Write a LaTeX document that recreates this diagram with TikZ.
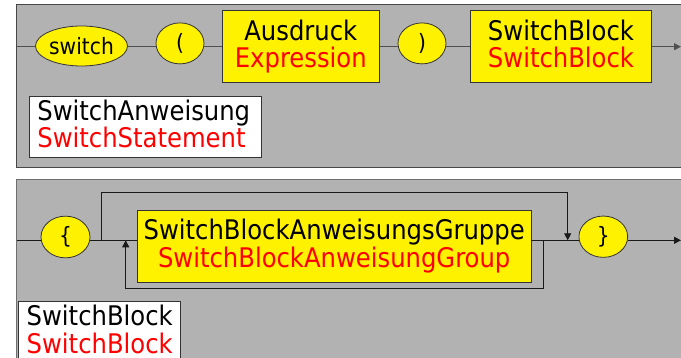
\documentclass[tikz,border=0pt]{standalone}
\usepackage{fontspec}
\setmainfont{DejaVu Sans Condensed}
\usetikzlibrary{shapes.geometric,arrows.meta}

\definecolor{panelgray}{HTML}{B2B2B2}
\definecolor{frameA}{HTML}{474747}
\definecolor{frameB}{HTML}{6E6E6E}
\definecolor{outline}{HTML}{333333}
\definecolor{wireA}{HTML}{505050}
\definecolor{wireB}{HTML}{1A1A1A}

% uniform line height for the two-line labels
\newcommand{\lnstrut}{\rule[-6pt]{0pt}{26pt}}
\newcommand{\bigtext}{\fontsize{27}{26}\selectfont}

\tikzset{
  panelfill/.style={fill=panelgray},
  term/.style={ellipse, draw=outline, fill=yellow, line width=0.8pt, inner sep=0pt,
    font=\fontsize{22.5}{23}\selectfont},
  nonterm/.style={rectangle, draw=outline, fill=yellow, line width=0.8pt, align=center,
    inner sep=0pt, font=\bigtext},
  legend/.style={rectangle, draw=outline, fill=white, line width=0.8pt, align=left,
    inner xsep=8pt, font=\bigtext},
  wire1/.style={draw=wireA, line width=0.9pt},
  wire2/.style={draw=wireB, line width=0.9pt},
  tip/.style={-{Triangle[length=7pt,width=7pt]}},
}

\begin{document}
\begin{tikzpicture}[x=1pt,y=-1pt]
\useasboundingbox (0,0) rectangle (681,358);

% ---------- SwitchStatement panel ----------
\fill[panelfill] (16.7,4.3) rectangle (690,167.3);
\draw[frameA, line width=1.3pt] (690,4.3) -- (16.7,4.3) -- (16.7,167.3) -- (690,167.3);

\coordinate (s1) at (16.7,46.7);
\coordinate (e1) at (681,46.7);

\node[term, minimum width=92pt, minimum height=40pt] (sw) at (81.5,46) {switch};
\node[term, minimum width=48pt, minimum height=41pt] (lp) at (180,43.4) {(};
\node[nonterm, minimum width=157pt, minimum height=72pt] (expr) at (300.8,46.7)
  {\lnstrut Ausdruck\\\lnstrut\textcolor{red}{Expression}};
\node[term, minimum width=48pt, minimum height=41pt] (rp) at (422,43.4) {)};
\node[nonterm, minimum width=181.4pt, minimum height=72pt] (blk) at (561,46.7)
  {\lnstrut SwitchBlock\\\lnstrut\textcolor{red}{SwitchBlock}};

\draw[wire1] (s1) -- (sw.west |- s1);
\draw[wire1] (sw.east |- s1) -- (lp.west |- s1);
\draw[wire1] (lp.east |- s1) -- (expr.west |- s1);
\draw[wire1] (expr.east |- s1) -- (rp.west |- s1);
\draw[wire1] (rp.east |- s1) -- (blk.west |- s1);
\draw[wire1, tip] (blk.east |- s1) -- (e1);

\node[legend, text width=216pt, minimum height=61pt, anchor=north west] (t1) at (29,96)
  {\lnstrut SwitchAnweisung\\\lnstrut\textcolor{red}{SwitchStatement}};

% ---------- SwitchBlock panel ----------
\fill[panelfill] (16.7,179.3) rectangle (690,370);
\draw[frameB, line width=1.3pt] (690,179.3) -- (16.7,179.3) -- (16.7,370);

\coordinate (s2) at (16.7,240.3);
\coordinate (e2) at (681,240.3);
\coordinate (fork) at (101.7,240.3);
\coordinate (join) at (567.7,240.3);
\coordinate (split) at (543,240.3);
\coordinate (merge) at (125.7,240.3);

\node[term, minimum width=49pt, minimum height=41.7pt] (lb) at (65.5,237) {\{};
\node[nonterm, minimum width=393.7pt, minimum height=72.7pt] (grp) at (334.2,246.3)
  {\lnstrut SwitchBlockAnweisungsGruppe\\\lnstrut\textcolor{red}{SwitchBlockAnweisungGroup}};
\node[term, minimum width=48.7pt, minimum height=41.3pt] (rb) at (603.3,236.7) {\}};

\draw[wire2] (s2) -- (lb.west |- s2);
\draw[wire2] (lb.east |- s2) -- (grp.west |- s2);
\draw[wire2] (grp.east |- s2) -- (rb.west |- s2);
\draw[wire2, tip] (rb.east |- s2) -- (e2);
% skip path over the group
\draw[wire2, tip] (fork) -- ++(0,-47.8) -| (join);
% repetition path back under the group
\draw[wire2, tip] (split) -- ++(0,48.2) -| (merge);

\node[legend, text width=146pt, inner ysep=4pt, anchor=north west] (t2) at (18.3,301)
  {\lnstrut SwitchBlock\\\lnstrut\textcolor{red}{SwitchBlock}};
\end{tikzpicture}
\end{document}
